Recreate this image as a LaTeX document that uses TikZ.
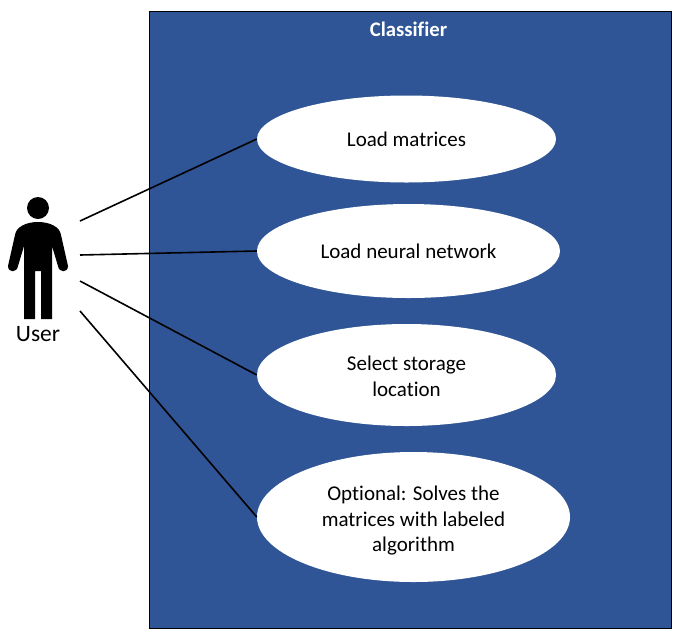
\documentclass[tikz,border=0pt]{standalone}
\usepackage{fontspec}
\setmainfont{Carlito}[Ligatures=NoCommon]
\usetikzlibrary{shapes.geometric}
\definecolor{panelblue}{HTML}{2F5597}
\tikzset{
    usecase/.style={ellipse,fill=white,inner sep=0pt,align=center,font=\fontsize{21}{25.5}\selectfont},
    assoc/.style={line width=1.6pt},
}
\begin{document}
\begin{tikzpicture}[x=1pt,y=-1pt]
    \useasboundingbox (0,0) rectangle (674,638);
    \fill[white] (0,0) rectangle (674,638);

    \draw[fill=panelblue,line width=0.8pt] (149,11) rectangle (671,628);
    \node[text=white,font=\bfseries\fontsize{20.7}{24}\selectfont] (title) at (408.5,29) {Classifier};

    \node[usecase,minimum width=299pt,minimum height=87pt] (load) at (406.5,139) {Load matrices};
    \node[usecase,minimum width=303pt,minimum height=94pt] (net) at (408.5,251) {Load neural network};
    \node[usecase,minimum width=299pt,minimum height=102pt] (store) at (406.5,375) {\rule{0pt}{17pt}Select storage\\location};
    \node[usecase,minimum width=313pt,minimum height=130pt] (solve) at (413.5,517) {\rule{0pt}{22pt}Optional: Solves the\\matrices with labeled\\algorithm};

    % stick figure
    \fill (38,208) circle (11);
    \fill (24,319) -- (24,246) -- (18,266)
        .. controls (17,273) and (8,273) .. (8,266)
        -- (15,235) .. controls (16,227) and (26,222) .. (38,222)
        .. controls (50,222) and (60,227) .. (61,235)
        -- (68,266) .. controls (68,273) and (59,273) .. (58,266)
        -- (52,246) -- (52,319) -- (41,319) -- (41,271) -- (35,271) -- (35,319) -- cycle;
    \node[font=\fontsize{23.5}{28}\selectfont] (user) at (38,334.5) {User};

    \coordinate (u1) at (80,221);
    \coordinate (u2) at (80,255);
    \coordinate (u3) at (80,281);
    \coordinate (u4) at (80,311);
    \draw[assoc] (u1) -- (load.west);
    \draw[assoc] (u2) -- (net.west);
    \draw[assoc] (u3) -- (store.west);
    \draw[assoc] (u4) -- (solve.west);
\end{tikzpicture}
\end{document}
